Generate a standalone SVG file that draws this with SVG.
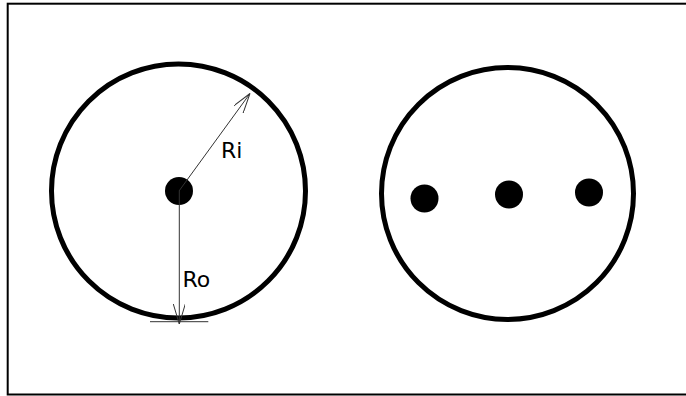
<svg xmlns="http://www.w3.org/2000/svg" width="686" height="396" viewBox="0 0 686 396">
<style>
.ring{fill:none;stroke:#000;stroke-width:5}
.dot{fill:#000}
.dim{fill:none;stroke:#333;stroke-width:1}
.lbl{font-family:"DejaVu Sans",sans-serif;font-size:22px;fill:#000}
</style>
<defs>
<marker id="arr" viewBox="0 0 20 12" refX="20" refY="6" markerWidth="20" markerHeight="12" markerUnits="userSpaceOnUse" orient="auto">
<path d="M0,0 L20,6 L0,12" fill="none" stroke="#333" stroke-width="1"/>
</marker>
</defs>
<rect x="7.7" y="3.7" width="690" height="390.8" fill="#fff" stroke="#000" stroke-width="2"/>
<g id="left-circle">
<circle class="ring" cx="178.5" cy="191" r="127"/>
<circle class="dot" cx="179" cy="191" r="14"/>
</g>
<g id="right-circle">
<circle class="ring" cx="507.5" cy="193.5" r="126"/>
<circle class="dot" cx="424.5" cy="198.5" r="14"/>
<circle class="dot" cx="509" cy="194.5" r="14"/>
<circle class="dot" cx="589" cy="192.5" r="14"/>
</g>
<g id="connectors">
<line class="dim" x1="179" y1="191" x2="250" y2="93.5" marker-end="url(#arr)"/>
<line class="dim" x1="179.3" y1="191" x2="179.3" y2="324" marker-end="url(#arr)"/>
<line class="dim" x1="150" y1="321.7" x2="208.3" y2="321.7"/>
</g>
<g id="labels">
<text class="lbl" x="221" y="158">Ri</text>
<text class="lbl" x="182.5" y="286.5">Ro</text>
</g>
</svg>
